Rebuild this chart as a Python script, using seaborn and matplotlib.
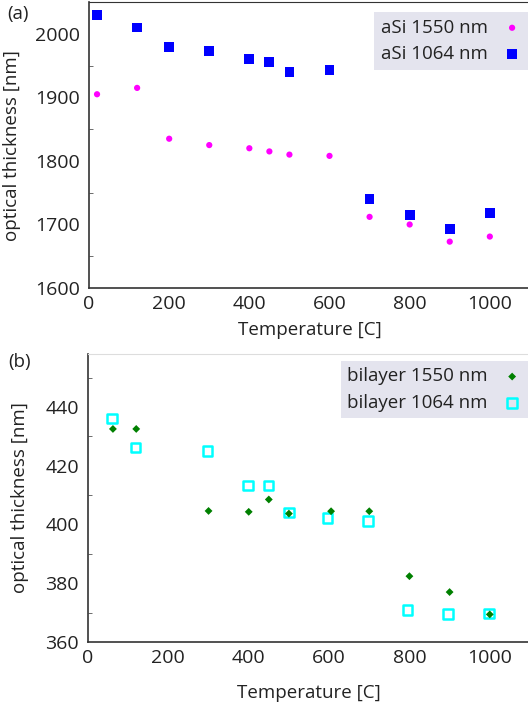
import matplotlib
matplotlib.use("Agg")
import matplotlib.pyplot as plt
import seaborn as sns
from matplotlib.ticker import MultipleLocator

# panel (a): aSi
asi_temp = [20, 120, 200, 300, 400, 450, 500, 600, 700, 800, 900, 1000]
asi_1550 = [1905, 1915, 1835, 1825, 1820, 1815, 1810, 1808, 1712, 1700, 1673, 1681]
asi_1064 = [2030, 2010, 1980, 1973, 1960, 1956, 1940, 1943, 1740, 1715, 1693, 1718]

# panel (b): bilayer
bi_temp_1550 = [62, 120, 300, 400, 450, 500, 605, 700, 800, 900, 1000]
bi_1550 = [432.5, 432.5, 404.6, 404.3, 408.5, 403.7, 404.5, 404.5, 382.4, 377.0, 369.4]
bi_temp_1064 = [60, 118, 298, 398, 450, 500, 596, 697, 795, 896, 998]
bi_1064 = [436.0, 426.2, 425.0, 413.2, 413.2, 404.0, 402.2, 401.2, 370.9, 369.5, 369.6]

sns.set_style("white")
plt.rcParams['font.family'] = ['Open Sans', 'DejaVu Sans']

fig = plt.figure(figsize=(5.28, 7.07), dpi=100)
ax1 = fig.add_axes([0.1686, 0.5926, 0.835, 0.4044])
ax2 = fig.add_axes([0.1667, 0.0919, 0.837, 0.4074])

sns.scatterplot(x=asi_temp, y=asi_1550, ax=ax1, color="#ff00ff", marker="o", s=20,
                edgecolor="none", label="aSi 1550 nm")
sns.scatterplot(x=asi_temp, y=asi_1064, ax=ax1, color="#0000ff", marker="s", s=50,
                edgecolor="none", label="aSi 1064 nm")

sns.scatterplot(x=bi_temp_1550, y=bi_1550, ax=ax2, color="#008000", marker="D", s=16,
                edgecolor="none", label="bilayer 1550 nm", zorder=3)
sns.scatterplot(x=bi_temp_1064, y=bi_1064, ax=ax2, marker="s", s=45,
                facecolor="none", edgecolor="#00ffff", linewidth=1.8,
                label="bilayer 1064 nm", zorder=2)

panels = [(ax1, (1600, 2050), 100, 50, 6, 10, 0.965),
          (ax2, (360, 458), 20, 10, 12, 11.5, 0.976)]
for ax, ylim, major, minor, xpad, ypad, legy in panels:
    ax.set_xlim(0, 1100)
    ax.set_ylim(*ylim)
    ax.set_xticks([0, 200, 400, 600, 800, 1000])
    ax.yaxis.set_major_locator(MultipleLocator(major))
    ax.yaxis.set_minor_locator(MultipleLocator(minor))
    ax.tick_params(axis='both', which='major', labelsize=14, length=0, colors="#222222")
    ax.tick_params(axis='x', which='major', pad=5)
    ax.tick_params(axis='y', which='major', pad=6.5)
    ax.tick_params(axis='y', which='minor', direction='in', length=3, left=True, color="#555555")
    ax.spines['left'].set_color("#333333")
    ax.spines['bottom'].set_color("#333333")
    ax.spines['left'].set_linewidth(1.2)
    ax.spines['bottom'].set_linewidth(1.2)
    ax.spines['right'].set_visible(False)
    ax.set_xlabel("Temperature [C]", fontsize=13.5, labelpad=xpad, color="#222222")
    ax.set_ylabel("optical thickness [nm]", fontsize=13.5, labelpad=ypad, color="#222222")
    leg = ax.legend(loc='upper right', bbox_to_anchor=(1.0, legy), borderaxespad=0,
                    markerfirst=False, fontsize=13.5, frameon=True, fancybox=False,
                    handletextpad=0.7, labelspacing=0.45, borderpad=0.35,
                    handlelength=1.2)
    leg.get_frame().set_facecolor("#e4e4ee")
    leg.get_frame().set_edgecolor("none")
    leg.get_frame().set_alpha(1)
    for t in leg.get_texts():
        t.set_color("#222222")

ax1.spines['top'].set_color("#333333")
ax2.spines['top'].set_color("#dddddd")

fig.text(0.013, 0.980, "(a)", fontsize=13.5, color="#222222", va="center")
fig.text(0.015, 0.488, "(b)", fontsize=13.5, color="#222222", va="center")

fig.savefig("out.png", dpi=100)
